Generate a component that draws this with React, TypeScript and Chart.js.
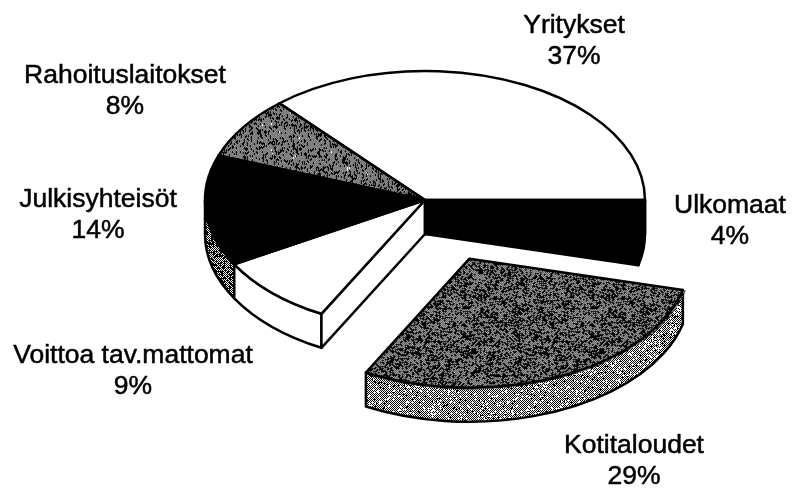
import React, { useEffect, useRef } from "react";
import { Chart, registerables } from "chart.js";

Chart.register(...registerables);

const categories = ["Ulkomaat", "Kotitaloudet", "Voittoa tav.mattomat", "Julkisyhteisöt", "Rahoituslaitokset", "Yritykset"];
const shares = [3.9, 28.9, 8.9, 13.9, 7.9, 36.5];
const explode = [0, 244, 0, 0, 0, 0];

const CENTER_X = 425;
const CENTER_Y = 200;
const RX = 220;
const RY = 129;
const DEPTH = 34;
const LABEL_FONT = '26.5px "Liberation Sans", Arial, sans-serif';
const LINE_GAP = 31;
// centre x and first-line baseline of each label
const labelAnchors: [number, number][] = [
  [730, 213],
  [634, 453],
  [133, 363],
  [98, 207],
  [125, 83],
  [574, 33],
];

function makePattern(ctx: CanvasRenderingContext2D, level: number, blobAmp: number, seed: number) {
  const size = 128;
  const tile = document.createElement("canvas");
  tile.width = size;
  tile.height = size;
  const t = tile.getContext("2d")!;
  const img = t.createImageData(size, size);
  let state = seed >>> 0;
  const next = () => {
    state = (Math.imul(state, 1664525) + 1013904223) >>> 0;
    return state / 4294967296;
  };
  for (let y = 0; y < size; y++) {
    for (let x = 0; x < size; x++) {
      const tau = (Math.PI * 2) / size;
      const blob = Math.sin(x * tau * 3 + 1.4 * Math.sin(y * tau * 2)) * Math.sin(y * tau * 7 + x * tau);
      const checker = (x + y) % 2 ? 0.25 : -0.25;
      const dark = next() * 0.6 + 0.2 + checker < level + blobAmp * blob;
      const i = (y * size + x) * 4;
      const v = dark ? 0 : 255;
      img.data[i] = v;
      img.data[i + 1] = v;
      img.data[i + 2] = v;
      img.data[i + 3] = 255;
    }
  }
  t.putImageData(img, 0, 0);
  return ctx.createPattern(tile, "repeat")!;
}

export default function App() {
  const ref = useRef<HTMLCanvasElement>(null);

  useEffect(() => {
    const canvas = ref.current!;
    const ctx = canvas.getContext("2d")!;
    const kotiTop = makePattern(ctx, 0.7, 0.08, 11);
    const rahoTop = makePattern(ctx, 0.6, 0.1, 23);
    const kotiSide = makePattern(ctx, 0.48, 0.02, 37);
    const julkiSide = makePattern(ctx, 0.65, 0.08, 51);
    const topFills: (string | CanvasPattern)[] = ["#000000", kotiTop, "#ffffff", "#000000", rahoTop, "#ffffff"];
    const wallFills: (string | CanvasPattern)[] = ["#000000", kotiSide, "#ffffff", julkiSide, julkiSide, "#ffffff"];

    const geometry = (chart: Chart) => {
      const arcs = chart.getDatasetMeta(0).data as any[];
      const R = arcs[0].outerRadius as number;
      const sx = RX / R;
      const sy = RY / R;
      return arcs.map((arc, i) => {
        const mid = (arc.startAngle + arc.endAngle) / 2;
        // Chart.js moves an arc by a quarter of its offset option
        const off = explode[i] / 4;
        return {
          a0: arc.startAngle as number,
          a1: arc.endAngle as number,
          ox: CENTER_X + Math.cos(mid) * off * sx,
          oy: CENTER_Y + Math.sin(mid) * off * sy,
        };
      });
    };

    const piePlugin = {
      id: "pie3d",
      beforeDatasetsDraw(chart: Chart) {
        const c = chart.ctx;
        const arcs = chart.getDatasetMeta(0).data as any[];
        const geo = geometry(chart);
        c.save();
        c.lineWidth = 2.5;
        c.strokeStyle = "#000";
        c.lineJoin = "round";
        for (let i = geo.length - 1; i >= 0; i--) {
          const { a0, a1, ox, oy } = geo[i];
          c.fillStyle = wallFills[i];
          const s = Math.max(a0, 0);
          const e = Math.min(a1, Math.PI);
          if (e > s) {
            c.beginPath();
            c.ellipse(ox, oy, RX, RY, 0, s, e);
            c.ellipse(ox, oy + DEPTH, RX, RY, 0, e, s, true);
            c.closePath();
            c.fill();
            c.stroke();
          }
          const faces: number[] = [];
          if (Math.sin(a0 - Math.PI / 2) > 0) faces.push(a0);
          if (Math.sin(a1 + Math.PI / 2) > 0) faces.push(a1);
          for (const a of faces) {
            const rimX = ox + Math.cos(a) * RX;
            const rimY = oy + Math.sin(a) * RY;
            c.beginPath();
            c.moveTo(ox, oy);
            c.lineTo(rimX, rimY);
            c.lineTo(rimX, rimY + DEPTH);
            c.lineTo(ox, oy + DEPTH);
            c.closePath();
            c.fill();
            c.stroke();
          }
        }
        c.restore();

        const R = arcs[0].outerRadius as number;
        const sx = RX / R;
        const sy = RY / R;
        const m = new DOMMatrix().scale(1 / sx, 1 / sy);
        kotiTop.setTransform(m);
        rahoTop.setTransform(m);
        c.save();
        c.translate(CENTER_X, CENTER_Y);
        c.scale(sx, sy);
        c.translate(-arcs[0].x, -arcs[0].y);
      },
      afterDatasetsDraw(chart: Chart) {
        const c = chart.ctx;
        c.restore();
        const geo = geometry(chart);
        c.save();
        c.lineWidth = 2.5;
        c.strokeStyle = "#000";
        c.lineJoin = "round";
        geo.forEach(({ a0, a1, ox, oy }) => {
          c.beginPath();
          c.moveTo(ox, oy);
          c.ellipse(ox, oy, RX, RY, 0, a0, a1);
          c.closePath();
          c.stroke();
        });
        c.fillStyle = "#000";
        c.lineWidth = 0.5;
        c.font = LABEL_FONT;
        c.textAlign = "center";
        c.textBaseline = "alphabetic";
        categories.forEach((name, i) => {
          const [x, y] = labelAnchors[i];
          const pct = `${Math.round(shares[i])}%`;
          c.fillText(name, x, y);
          c.strokeText(name, x, y);
          c.fillText(pct, x, y + LINE_GAP);
          c.strokeText(pct, x, y + LINE_GAP);
        });
        c.restore();
      },
    };

    const chart = new Chart(canvas, {
      type: "pie",
      data: {
        labels: categories,
        datasets: [
          {
            data: shares,
            backgroundColor: topFills as any,
            borderWidth: 0,
            offset: explode,
            clip: false,
          } as any,
        ],
      },
      options: {
        animation: false,
        responsive: false,
        rotation: 90,
        layout: { padding: 0 },
        plugins: { legend: { display: false }, tooltip: { enabled: false } },
      },
      plugins: [piePlugin as any],
    });
    return () => chart.destroy();
  }, []);

  return (
    <div style={{ position: "absolute", left: 0, top: 0, width: 792, height: 489, background: "#fff" }}>
      <canvas ref={ref} width={792} height={489} style={{ display: "block" }} />
    </div>
  );
}
